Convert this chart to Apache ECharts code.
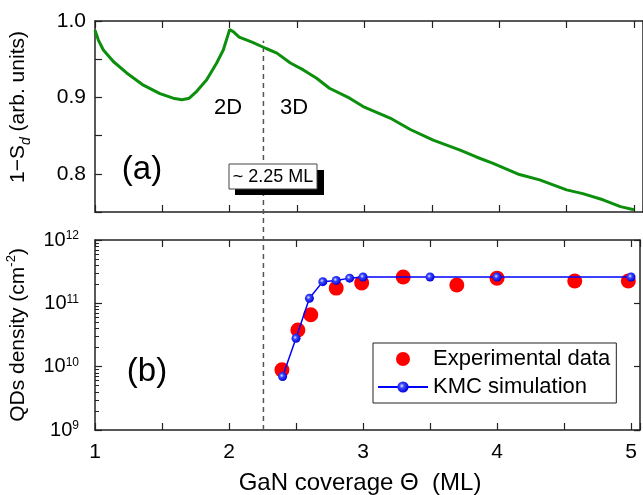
<!DOCTYPE html>
<html>
<head>
<meta charset="utf-8">
<script src="https://cdn.jsdelivr.net/npm/echarts@6/dist/echarts.min.js"></script>
<style>
  html, body { margin: 0; padding: 0; background: #fff; }
  #chart { width: 643px; height: 495px; }
</style>
</head>
<body>
<div id="chart"></div>
<script>
var FONT = '"Liberation Sans", Arial, sans-serif';

// (a) 1 - Sd curve
var topX = [1.00, 1.025, 1.062, 1.136, 1.235, 1.359, 1.482, 1.58, 1.645, 1.70, 1.755, 1.829, 1.903, 1.952, 2.00,
            2.026, 2.07, 2.17, 2.27, 2.35, 2.45, 2.546, 2.645, 2.74, 2.89, 2.99, 3.19, 3.34, 3.51, 3.71,
            3.83, 3.95, 4.15, 4.30, 4.50, 4.62, 4.77, 4.90, 5.00];
var topY = [0.988, 0.975, 0.962, 0.947, 0.932, 0.916, 0.905, 0.899, 0.897, 0.899, 0.908, 0.923, 0.945, 0.962, 0.989,
            0.986, 0.979, 0.972, 0.964, 0.958, 0.945, 0.936, 0.925, 0.912, 0.899, 0.888, 0.873, 0.858, 0.844, 0.831,
            0.822, 0.814, 0.799, 0.792, 0.779, 0.774, 0.766, 0.757, 0.753];

// (b) QD density
var expX = [2.395, 2.514, 2.61, 2.80, 2.99, 3.30, 3.70, 4.00, 4.58, 4.98];
var expY = [8.9e9, 3.8e10, 6.6e10, 1.74e11, 2.1e11, 2.6e11, 1.95e11, 2.5e11, 2.25e11, 2.25e11];
var kmcX = [2.40, 2.50, 2.60, 2.70, 2.80, 2.90, 3.00, 3.50, 4.00, 5.00];
var kmcY = [7e9, 2.8e10, 1.2e11, 2.2e11, 2.3e11, 2.5e11, 2.6e11, 2.6e11, 2.6e11, 2.6e11];

// dashed 2D/3D transition line
var cutX = [2.25, 2.25];
var cutY = [0, 0.952];

var topLabels = [0.8, 0.9, 1.0];
var xLabels = [1, 2, 3, 4, 5];
var decades = [9, 10, 11, 12];
var minorTicks = [];
decades.slice(0, 3).forEach(function (e) {
    for (var m = 2; m <= 9; m++) minorTicks.push(m * Math.pow(10, e));
});

function zip(a, b) { return a.map(function (v, i) { return [v, b[i]]; }); }

var xMax = 5.067;
var axisCol = '#222';

function xAx(grid, pos, labels) {
    return {
        type: 'value', gridIndex: grid, position: pos, min: 1, max: xMax, interval: 0.5,
        axisLine: { show: true, onZero: false, lineStyle: { color: axisCol, width: 1.5 } },
        axisTick: { show: true, inside: true, length: 7, lineStyle: { color: axisCol, width: 1.2 } },
        axisLabel: {
            show: labels, margin: 12, color: '#000', fontFamily: FONT, fontSize: 21,
            formatter: function (v) { return xLabels.indexOf(v) >= 0 ? String(v) : ''; }
        },
        splitLine: { show: false }
    };
}

var chart = echarts.init(document.getElementById('chart'));

var option = {
    animation: false,
    backgroundColor: '#fff',
    textStyle: { fontFamily: FONT },
    grid: [
        { left: 95, top: 21, width: 548, height: 191 },
        { left: 95, top: 240, width: 548, height: 190 },
        { left: 95, top: 21, width: 548, height: 409 }
    ],
    xAxis: [
        xAx(0, 'bottom', false),
        xAx(0, 'top', false),
        xAx(1, 'bottom', true),
        xAx(1, 'top', false),
        { type: 'value', gridIndex: 2, min: 1, max: xMax, show: false }
    ],
    yAxis: [
        {
            type: 'value', gridIndex: 0, position: 'left', min: 0.75, max: 1.0, interval: 0.05,
            axisLine: { show: true, lineStyle: { color: axisCol, width: 1.5 } },
            axisTick: { show: true, inside: true, length: 7, lineStyle: { color: axisCol, width: 1.2 } },
            axisLabel: {
                margin: 9, color: '#000', fontFamily: FONT, fontSize: 21,
                formatter: function (v) {
                    var r = Math.round(v * 100) / 100;
                    return topLabels.indexOf(r) >= 0 ? r.toFixed(1) : '';
                }
            },
            splitLine: { show: false }
        },
        {
            type: 'value', gridIndex: 0, position: 'right', min: 0.75, max: 1.0,
            axisLine: { show: true, lineStyle: { color: axisCol, width: 1.5 } },
            axisTick: { show: false }, axisLabel: { show: false }, splitLine: { show: false }
        },
        {
            type: 'log', gridIndex: 1, position: 'left', min: 1e9, max: 1e12, logBase: 10,
            axisLine: { show: true, lineStyle: { color: axisCol, width: 1.5 } },
            axisTick: { show: true, inside: true, length: 7, lineStyle: { color: axisCol, width: 1.2 } },
            axisLabel: {
                margin: 16, color: '#000', fontFamily: FONT,
                formatter: function (v) {
                    var e = Math.round(Math.log(v) / Math.LN10);
                    return '{b|10}{s|' + e + '}';
                },
                rich: {
                    b: { fontSize: 20, lineHeight: 20, fontFamily: FONT, color: '#000' },
                    s: { fontSize: 12, lineHeight: 12, verticalAlign: 'top', fontFamily: FONT, color: '#000' }
                }
            },
            splitLine: { show: false }
        },
        {
            type: 'log', gridIndex: 1, position: 'left', min: 1e9, max: 1e12, logBase: 10,
            axisLine: { show: false },
            axisTick: { show: true, inside: true, length: 4, customValues: minorTicks, lineStyle: { color: axisCol, width: 1 } },
            axisLabel: { show: false }, splitLine: { show: false }
        },
        {
            type: 'log', gridIndex: 1, position: 'right', min: 1e9, max: 1e12, logBase: 10,
            axisLine: { show: true, lineStyle: { color: axisCol, width: 1.5 } },
            axisTick: { show: true, inside: true, length: 6, lineStyle: { color: axisCol, width: 1.2 } },
            axisLabel: { show: false }, splitLine: { show: false }
        },
        { type: 'value', gridIndex: 2, min: 0, max: 1, show: false }
    ],
    legend: {
        orient: 'vertical', left: 373, top: 343,
        padding: [5, 6, 5, 4], itemGap: 6, itemWidth: 50, itemHeight: 14,
        borderColor: '#222', borderWidth: 1, backgroundColor: '#fff',
        textStyle: { fontFamily: FONT, fontSize: 22, color: '#000' },
        data: ['Experimental data', 'KMC simulation']
    },
    series: [
        {
            type: 'line', xAxisIndex: 4, yAxisIndex: 5, data: zip(cutX, cutY),
            symbol: 'none', silent: true, z: 1,
            lineStyle: { color: '#555', width: 1.5, type: [5, 4] }
        },
        {
            type: 'line', xAxisIndex: 0, yAxisIndex: 0, data: zip(topX, topY),
            showSymbol: false, symbol: 'none',
            lineStyle: { color: '#0c8f0c', width: 3 }
        },
        {
            name: 'Experimental data', type: 'scatter', xAxisIndex: 2, yAxisIndex: 2,
            data: zip(expX, expY), symbol: 'circle', symbolSize: 15,
            itemStyle: { color: '#ff0000', opacity: 1 }, z: 3
        },
        {
            name: 'KMC simulation', type: 'line', xAxisIndex: 2, yAxisIndex: 2,
            data: zip(kmcX, kmcY), symbol: 'circle', symbolSize: 9, showSymbol: true,
            lineStyle: { color: '#0000ff', width: 1.5 },
            itemStyle: {
                color: {
                    type: 'radial', x: 0.4, y: 0.4, r: 0.6,
                    colorStops: [
                        { offset: 0, color: '#e6ecff' },
                        { offset: 0.35, color: '#3a48ff' },
                        { offset: 1, color: '#0000d8' }
                    ]
                },
                borderWidth: 0
            },
            z: 4
        }
    ],
    graphic: [
        { type: 'text', x: 228, y: 108, z: 100, style: { text: '2D', fontFamily: FONT, fontSize: 22, fill: '#000', align: 'center', verticalAlign: 'middle' } },
        { type: 'text', x: 294, y: 108, z: 100, style: { text: '3D', fontFamily: FONT, fontSize: 22, fill: '#000', align: 'center', verticalAlign: 'middle' } },
        { type: 'text', x: 142, y: 170, z: 100, style: { text: '(a)', fontFamily: FONT, fontSize: 33, fill: '#000', align: 'center', verticalAlign: 'middle' } },
        { type: 'text', x: 147, y: 372, z: 100, style: { text: '(b)', fontFamily: FONT, fontSize: 33, fill: '#000', align: 'center', verticalAlign: 'middle' } },
        { type: 'rect', z: 100, shape: { x: 235, y: 170, width: 89, height: 25 }, style: { fill: '#000' } },
        { type: 'rect', z: 101, shape: { x: 229, y: 164, width: 88, height: 25 }, style: { fill: '#fff', stroke: '#444', lineWidth: 1 } },
        { type: 'text', x: 273, y: 177, z: 102, style: { text: '~ 2.25 ML', fontFamily: FONT, fontSize: 18, fill: '#000', align: 'center', verticalAlign: 'middle' } },
        {
            type: 'text', x: 18, y: 107, z: 100, rotation: Math.PI / 2,
            style: {
                text: '{m|1\u2212S}{d|d}{m| (arb. units)}', align: 'center', verticalAlign: 'middle',
                rich: {
                    m: { fontFamily: FONT, fontSize: 21, lineHeight: 30, fill: '#000' },
                    d: { fontFamily: FONT, fontSize: 14, lineHeight: 14, fontStyle: 'italic', verticalAlign: 'bottom', fill: '#000' }
                }
            }
        },
        {
            type: 'text', x: 18, y: 335, z: 100, rotation: Math.PI / 2,
            style: {
                text: '{m|QDs density (cm}{s|-2}{m|)}', align: 'center', verticalAlign: 'middle',
                rich: {
                    m: { fontFamily: FONT, fontSize: 21, lineHeight: 26, fill: '#000' },
                    s: { fontFamily: FONT, fontSize: 13, lineHeight: 13, verticalAlign: 'top', fill: '#000' }
                }
            }
        },
        { type: 'text', x: 360, y: 483, z: 100, style: { text: 'GaN coverage \u0398  (ML)', fontFamily: FONT, fontSize: 24, fill: '#000', align: 'center', verticalAlign: 'middle' } }
    ]
};

chart.setOption(option);
</script>
</body>
</html>
